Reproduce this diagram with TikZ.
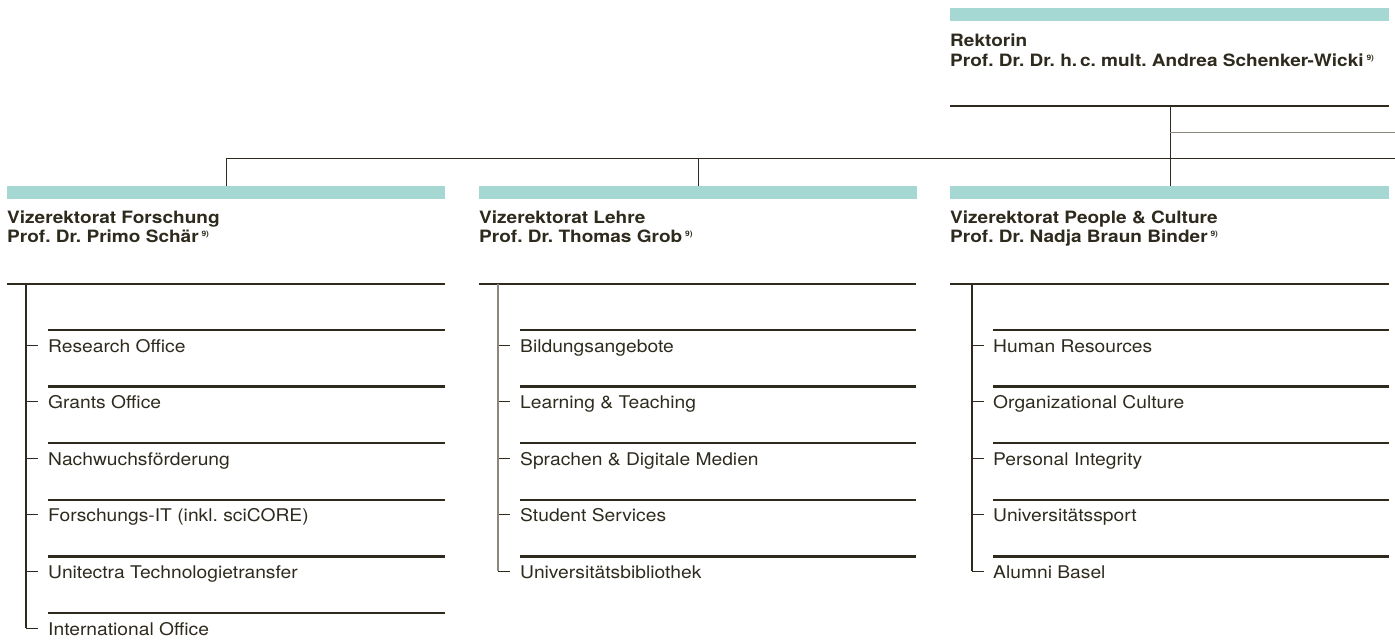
\documentclass[tikz,border=0pt]{standalone}
\usepackage{fontspec}
\setmainfont{TeX Gyre Heros}
\newfontfamily\itemfont{TeX Gyre Heros}[FakeStretch=1.10]
\newfontfamily\headfont{TeX Gyre Heros}[FakeStretch=1.12]
\definecolor{ink}{HTML}{2E2A1E}
\definecolor{tealbar}{HTML}{A5D7D3}
\definecolor{greyline}{HTML}{8C877B}
\newcommand{\fnnine}{\,\raisebox{5.5pt}{\fontsize{7.5}{8}\selectfont\bfseries 9)}}
\tikzset{
  bar/.style={fill=tealbar, draw=none, inner sep=0, minimum height=13pt, minimum width=438pt, anchor=north west},
  rule/.style={draw=ink, line width=2.4pt},
  conn/.style={draw=ink, line width=1pt},
  tree/.style={draw=ink, line width=1.2pt},
  head/.style={anchor=base west, inner sep=0, text=ink, font=\headfont\fontsize{17}{20}\selectfont\bfseries\frenchspacing, align=left},
  item/.style={anchor=base west, inner sep=0, text=ink, font=\itemfont\fontsize{17.5}{20}\selectfont\frenchspacing},
}
\begin{document}
\begin{tikzpicture}[x=1pt,y=-1pt]
\useasboundingbox (0,0) rectangle (1395,641);
% Rektorin
\node[bar, minimum width=439pt] (barR) at (950,8) {};
\node[head] (rektT1) at (950,46) {Rektorin};
\node[head] (rektT2) at (950,66) {Prof. Dr. Dr. h.\,c. mult. Andrea Schenker-Wicki\fnnine};
\draw[rule] (950,106) -- (1389,106);
\coordinate (rk) at (1170,106);
\coordinate (gy) at (1170,132);
\coordinate (gyR) at (1395,132);
\coordinate (busR) at (1395,158);
% column bars
\node[bar] (bar1) at (7,186) {};
\node[bar] (bar2) at (479,186) {};
\node[bar, minimum width=439pt] (bar3) at (950,186) {};
% connectors
\draw[conn] (bar1.north) |- (busR);
\draw[conn] (bar2.north) -- (bar2.north |- busR);
\draw[conn] (rk) -- (rk |- bar3.north);
\draw[draw=greyline, line width=1pt] (gy) -- (gyR);
% headings
\node[head] (h1a) at (7,223) {Vizerektorat Forschung};
\node[head] (h1b) at (7,242) {Prof. Dr. Primo Schär\fnnine};
\node[head] (h2a) at (479,223) {Vizerektorat Lehre};
\node[head] (h2b) at (479,242) {Prof. Dr. Thomas Grob\fnnine};
\node[head] (h3a) at (950,223) {Vizerektorat People \& Culture};
\node[head] (h3b) at (950,242) {Prof. Dr. Nadja Braun Binder\fnnine};
\draw[rule] (7,284) -- (445,284);
\draw[rule] (479,284) -- (916,284);
\draw[rule] (950,284) -- (1389,284);
% column 1
\foreach \t [count=\i] in {Research Office,Grants Office,Nachwuchsförderung,Forschungs-IT (inkl. sciCORE),Unitectra Technologietransfer,International Office}{
  \pgfmathsetmacro{\yy}{330+56.6*(\i-1)}
  \draw[rule] (48,\yy) -- (445,\yy);
  \node[item] (a\i) at (48,\yy+22) {\t};
  \coordinate (ta\i) at (26,\yy+15);
  \draw[conn] (ta\i) -- ++(12,0);
}
\draw[tree] (26,284) -- (ta6);
% column 2
\foreach \t [count=\i] in {Bildungsangebote,Learning \& Teaching,Sprachen \& Digitale Medien,Student Services,Universitätsbibliothek}{
  \pgfmathsetmacro{\yy}{330+56.6*(\i-1)}
  \draw[rule] (520,\yy) -- (916,\yy);
  \node[item] (b\i) at (520,\yy+22) {\t};
  \coordinate (tb\i) at (498,\yy+15);
  \draw[conn] (tb\i) -- ++(12,0);
}
\draw[tree, draw=greyline] (498,284) -- (tb5);
% column 3
\foreach \t [count=\i] in {Human Resources,Organizational Culture,Personal Integrity,Universitätssport,Alumni Basel}{
  \pgfmathsetmacro{\yy}{330+56.6*(\i-1)}
  \draw[rule] (993,\yy) -- (1389,\yy);
  \node[item] (c\i) at (993,\yy+22) {\t};
  \coordinate (tc\i) at (972,\yy+15);
  \draw[conn] (tc\i) -- ++(12,0);
}
\draw[tree] (972,284) -- (tc5);
\end{tikzpicture}
\end{document}
